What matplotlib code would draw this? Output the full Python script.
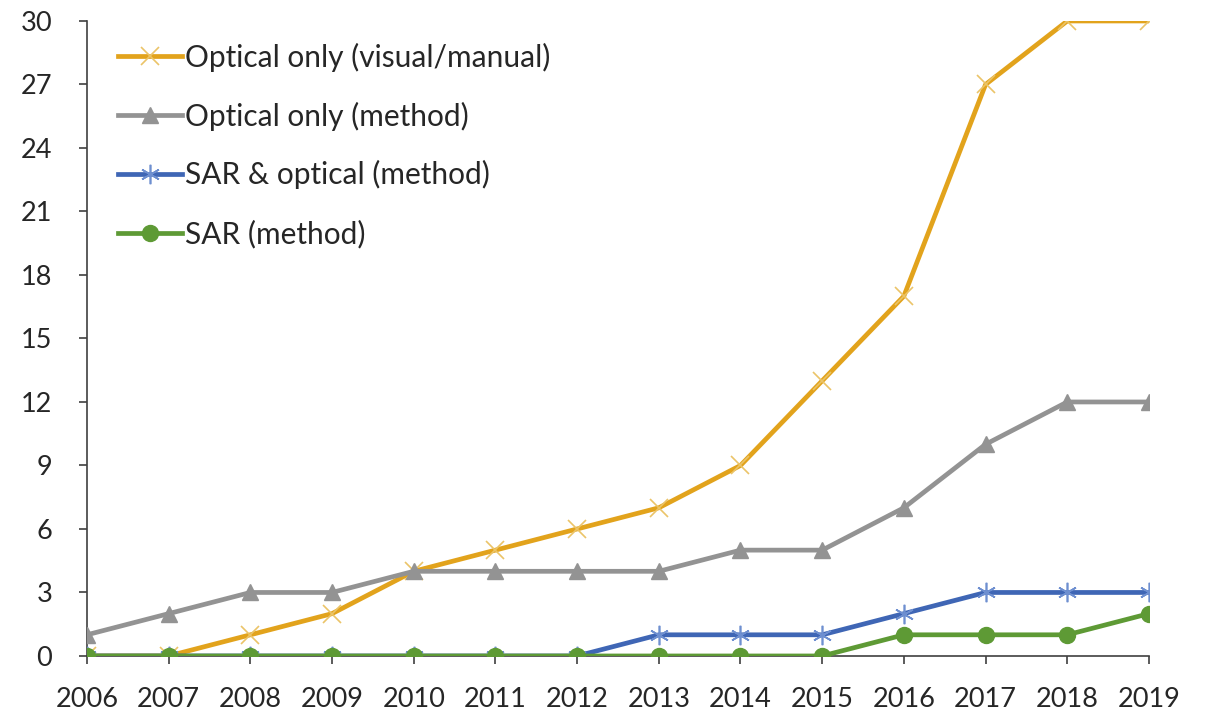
import matplotlib
matplotlib.use("Agg")
import matplotlib.pyplot as plt

years = [2006, 2007, 2008, 2009, 2010, 2011, 2012, 2013, 2014, 2015, 2016, 2017, 2018, 2019]
optical_visual = [0, 0, 1, 2, 4, 5, 6, 7, 9, 13, 17, 27, 30, 30]
optical_method = [1, 2, 3, 3, 4, 4, 4, 4, 5, 5, 7, 10, 12, 12]
sar_optical = [0, 0, 0, 0, 0, 0, 0, 1, 1, 1, 2, 3, 3, 3]
sar_method = [0, 0, 0, 0, 0, 0, 0, 0, 0, 0, 1, 1, 1, 2]
y_ticks = [0, 3, 6, 9, 12, 15, 18, 21, 24, 27, 30]

plt.rcParams['font.family'] = ['Lato', 'DejaVu Sans']

fig = plt.figure(figsize=(12.06, 7.11), dpi=100)
ax = fig.add_axes([0.0721, 0.0774, 0.8806, 0.8931])

lw = 3.4
ax.plot(years, optical_visual, color='#E2A31C', lw=lw, marker='x', ms=13, mew=1.2,
        mec='#EBC468', label='Optical only (visual/manual)', zorder=3)
ax.plot(years, optical_method, color='#939393', lw=lw, marker='^', ms=12,
        label='Optical only (method)', zorder=3)
ax.plot(years, sar_optical, color='#3F66B5', lw=lw, marker=(6, 2, 0), ms=14, mew=1.2,
        mec='#6E8FD0', label='SAR & optical (method)', zorder=4)
ax.plot(years, sar_method, color='#5E9A35', lw=lw, marker='o', ms=11.5,
        label='SAR (method)', zorder=5)

ax.set_xlim(2006, 2019)
ax.set_ylim(0, 30)
ax.set_xticks(years)
ax.set_yticks(y_ticks)
ax.tick_params(axis='both', labelsize=19.5, color='#404040', length=6, width=1.2,
               labelcolor='#262626')
ax.tick_params(axis='x', pad=16)
ax.tick_params(axis='y', pad=19)
for side in ('top', 'right'):
    ax.spines[side].set_visible(False)
for side in ('left', 'bottom'):
    ax.spines[side].set_color('#404040')
    ax.spines[side].set_linewidth(1.2)
for lab in ax.get_xticklabels() + ax.get_yticklabels():
    lab.set_clip_on(False)

leg = ax.legend(loc='upper left', bbox_to_anchor=(0.018, 0.985), frameon=False,
                fontsize=21.5, handlelength=2.15, handletextpad=0.1, labelspacing=1.0,
                borderaxespad=0.0)
for t in leg.get_texts():
    t.set_color('#262626')

fig.savefig('out.png', dpi=100)
